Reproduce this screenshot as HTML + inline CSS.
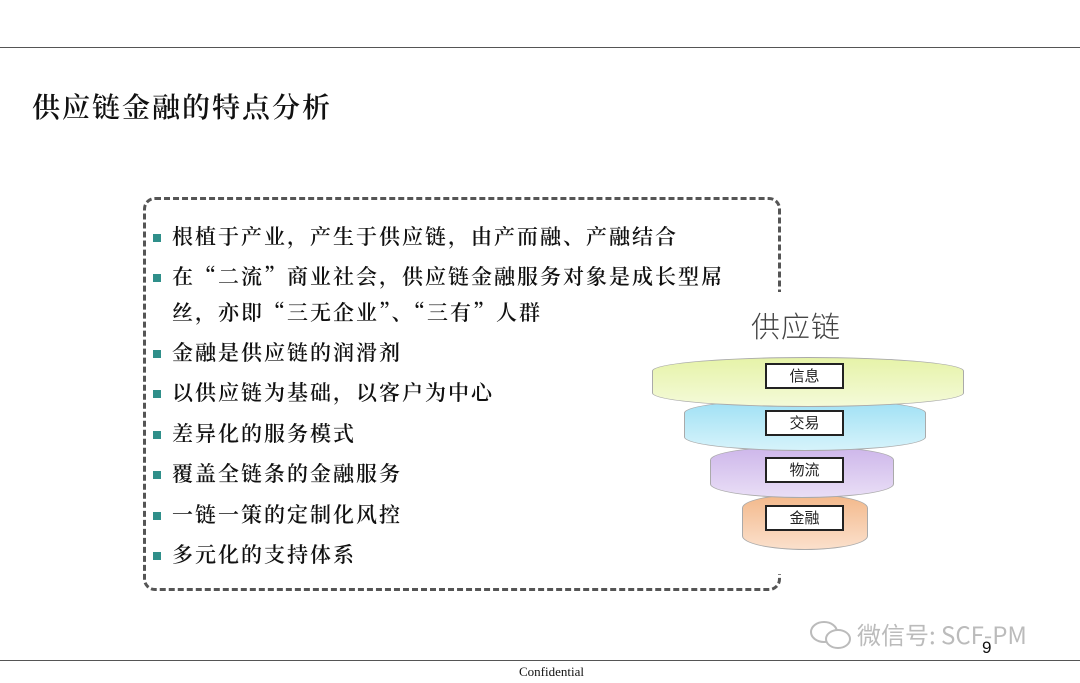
<!DOCTYPE html>
<html><head><meta charset="utf-8"><style>
body{margin:0;width:1080px;height:683px;background:#fff;position:relative;overflow:hidden;font-family:"Noto Serif CJK SC",serif;}
.abs{position:absolute}
.line{position:absolute;left:0;width:1080px;height:1px;background:#555}
.t{position:absolute;left:172px;font-size:21px;letter-spacing:2px;color:#111;white-space:nowrap;line-height:24px;font-weight:600}
.b{position:absolute;left:153px;width:8px;height:8px;background:#2f8f8a}
.tier{position:absolute;border:1px solid #aaa}
.lab{position:absolute;left:765px;width:75px;height:22px;border:2px solid #222;background:#fff;font-family:"Noto Sans CJK SC",sans-serif;font-size:15px;text-align:center;line-height:22px;color:#222}
</style></head><body>
<div class="line" style="top:47px"></div>
<div class="line" style="top:660px"></div>
<div class="abs" style="left:32px;top:86px;font-size:28px;letter-spacing:2px;color:#111;font-weight:600">供应链金融的特点分析</div>
<div class="abs" style="left:143px;top:197px;width:632px;height:388px;border:3px dashed #555;border-radius:12px"></div>
<div class="abs" style="left:740px;top:292px;width:80px;height:282px;background:#fff"></div>

<div class="b" style="top:234px"></div><div class="t" style="top:224px">根植于产业，产生于供应链，由产而融、产融结合</div>
<div class="b" style="top:274px"></div><div class="t" style="top:264px">在“二流”商业社会，供应链金融服务对象是成长型屌</div>
<div class="t" style="top:300px">丝，亦即“三无企业”、“三有”人群</div>
<div class="b" style="top:350px"></div><div class="t" style="top:340px">金融是供应链的润滑剂</div>
<div class="b" style="top:390px"></div><div class="t" style="top:380px">以供应链为基础，以客户为中心</div>
<div class="b" style="top:431px"></div><div class="t" style="top:421px">差异化的服务模式</div>
<div class="b" style="top:471px"></div><div class="t" style="top:461px">覆盖全链条的金融服务</div>
<div class="b" style="top:512px"></div><div class="t" style="top:502px">一链一策的定制化风控</div>
<div class="b" style="top:552px"></div><div class="t" style="top:542px">多元化的支持体系</div>

<div class="abs" style="left:751px;top:304px;font-family:'Noto Sans CJK SC',sans-serif;font-size:29px;font-weight:300;color:#444;letter-spacing:1px">供应链</div>

<div class="tier" style="left:742px;top:494px;width:124px;height:54px;background:linear-gradient(#f3b88a,#fbe0cc);border-radius:50%/14px"></div>
<div class="tier" style="left:710px;top:446px;width:182px;height:50px;background:linear-gradient(#cdb6ea,#e9def6);border-radius:50%/14px"></div>
<div class="tier" style="left:684px;top:399px;width:240px;height:50px;background:linear-gradient(#9ee0f4,#d6f3fb);border-radius:50%/14px"></div>
<div class="tier" style="left:652px;top:357px;width:310px;height:48px;background:linear-gradient(#e6f3a8,#f4fad8);border-radius:50%/14px"></div>

<div class="lab" style="top:363px">信息</div>
<div class="lab" style="top:410px">交易</div>
<div class="lab" style="top:457px">物流</div>
<div class="lab" style="top:505px">金融</div>

<svg class="abs" style="left:808px;top:620px" width="46" height="32"><ellipse cx="16" cy="12" rx="13" ry="10" fill="none" stroke="#bbb" stroke-width="2"/><ellipse cx="30" cy="19" rx="12" ry="9" fill="#fff" stroke="#bbb" stroke-width="2"/></svg>
<div class="abs" style="left:857px;top:616px;font-family:'Noto Sans CJK SC',sans-serif;font-size:24px;color:#bbb">微信号: SCF-PM</div>
<div class="abs" style="left:982px;top:638px;font-family:'Liberation Sans',sans-serif;font-size:17px;color:#111">9</div>
<div class="abs" style="left:519px;top:664px;font-family:'Liberation Serif',serif;font-size:13px;color:#111">Confidential</div>
</body></html>
